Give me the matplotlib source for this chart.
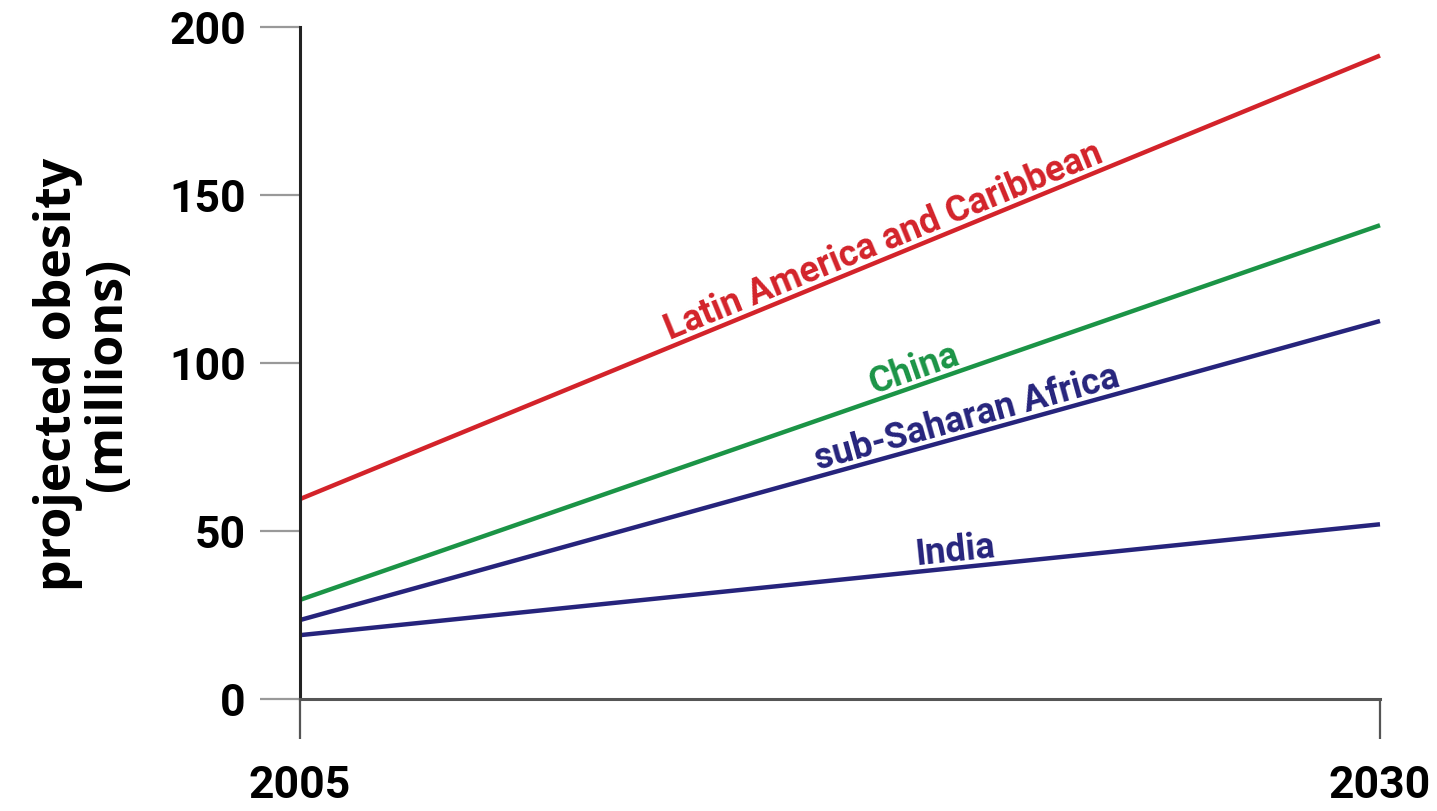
import numpy as np
import matplotlib
matplotlib.use("Agg")
import matplotlib.pyplot as plt

# ----------------------------------------------------------------------------------------------------
# data
years = [2005, 2030]
latin_america = [59.5, 191.5]
china = [29.5, 141]
sub_saharan = [23.5, 112.5]
india = [19, 52]

series_names = ["Latin America and Caribbean", "China", "sub-Saharan Africa", "India"]
series_values = [latin_america, china, sub_saharan, india]
series_colors = ["#d3232a", "#1b9446", "#26247c", "#26247c"]
label_years = [2018.6, 2019.3, 2020.5, 2020.2]  # where each label sits along its line

y_ticks = [0, 50, 100, 150, 200]
x_ticks = [2005, 2030]

# ----------------------------------------------------------------------------------------------------
plt.rcParams['font.family'] = ['Roboto', 'DejaVu Sans']
plt.rcParams['font.weight'] = 'bold'

fig = plt.figure(figsize=(14.37, 8.12), dpi=100)
ax = fig.add_axes([300 / 1437, 1 - 700 / 812, 1080 / 1437, 672 / 812])

for name, vals, col, ly in zip(series_names, series_values, series_colors, label_years):
    ax.plot(years, vals, color=col, lw=3.2, solid_capstyle='butt', clip_on=False)
    # label sits on top of the line, rotated along it
    slope = (vals[1] - vals[0]) / (years[1] - years[0])
    angle = np.degrees(np.arctan(slope))
    y_on_line = vals[0] + slope * (ly - years[0])
    ax.text(ly, y_on_line + 2.3, name, color=col, fontsize=26, fontweight='bold',
            ha='center', va='baseline', rotation=angle, rotation_mode='anchor',
            transform_rotates_text=True)

ax.set_xlim(2005, 2030)
ax.set_ylim(0, 200)
ax.set_xticks(x_ticks)
ax.set_yticks(y_ticks)
ax.set_xticklabels([str(x) for x in x_ticks], fontsize=32, fontweight='bold')
ax.set_yticklabels([str(y) for y in y_ticks], fontsize=32, fontweight='bold')

for s in ['top', 'right']:
    ax.spines[s].set_visible(False)
ax.spines['left'].set_color('#222222')
ax.spines['left'].set_linewidth(2.2)
ax.spines['bottom'].set_color('#555555')
ax.spines['bottom'].set_linewidth(2.2)

ax.tick_params(axis='y', length=29, width=1.6, color='#999999', pad=10)
ax.tick_params(axis='x', length=29, width=1.6, color='#555555', pad=18)

ax.set_ylabel("projected obesity\n(millions)", fontsize=36, fontweight='bold',
              family=['Open Sans', 'DejaVu Sans'], linespacing=1.0,
              multialignment='center')
ax.yaxis.set_label_coords(-0.155, 0.485)

fig.savefig("out.png", dpi=100, facecolor='white')
